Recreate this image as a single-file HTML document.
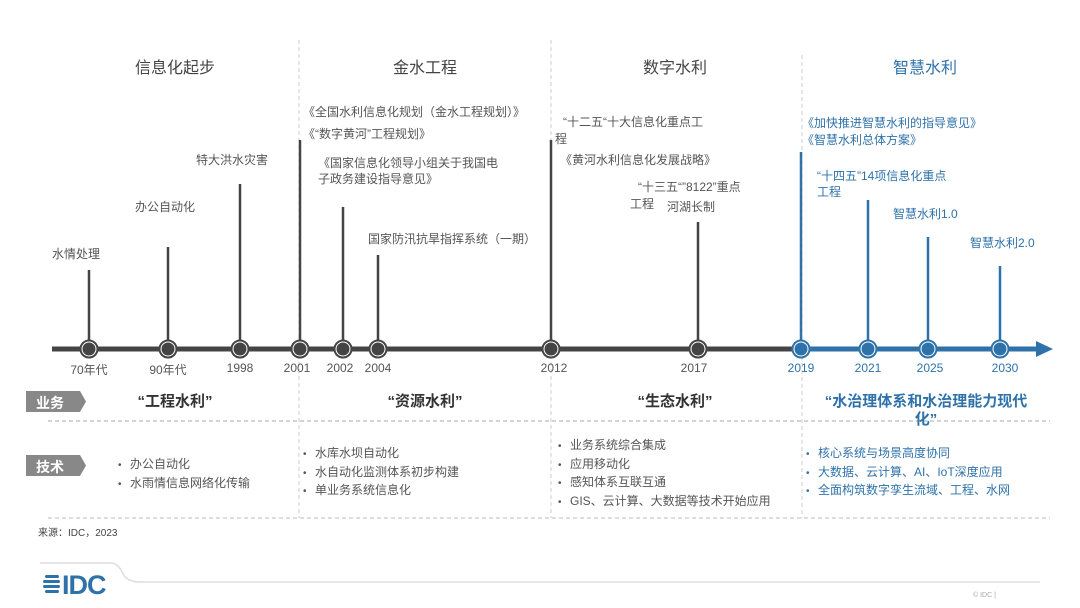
<!DOCTYPE html>
<html><head><meta charset="utf-8"><style>
body{margin:0;width:1080px;height:608px;background:#fff;overflow:hidden;position:relative;font-family:"Liberation Sans","Noto Sans CJK SC",sans-serif;}
.t{position:absolute;white-space:nowrap;font-size:12px;color:#555;line-height:16px;}
.h{position:absolute;font-size:16px;color:#444;width:200px;text-align:center;top:54px;}
.y{position:absolute;font-size:12px;color:#555;width:50px;text-align:center;top:361px;}
.b{position:absolute;font-size:15px;color:#333;width:240px;text-align:center;font-weight:bold;line-height:18px;}
.u{position:absolute;font-size:12px;color:#555;line-height:16.5px;}
.u div:before{content:"•";display:inline-block;width:12px;font-size:10px;}
.blue{color:#2f72aa!important;}
</style></head><body>
<svg width="1080" height="608" style="position:absolute;left:0;top:0">
<g stroke="#ccc" stroke-dasharray="4,3" stroke-width="1">
<line x1="299" y1="40" x2="299" y2="518"/><line x1="551" y1="40" x2="551" y2="518"/><line x1="802" y1="55" x2="802" y2="518"/>
<line x1="48" y1="421" x2="1050" y2="421" stroke="#aaa"/><line x1="48" y1="518" x2="1050" y2="518" stroke="#bbb"/>
</g>
<line x1="52" y1="349" x2="801" y2="349" stroke="#444" stroke-width="5"/>
<line x1="801" y1="349" x2="1040" y2="349" stroke="#2f72aa" stroke-width="5"/>
<polygon points="1036,341 1053,349 1036,357" fill="#2f72aa"/>
<g stroke="#444" stroke-width="2.5">
<line x1="89" y1="270" x2="89" y2="349"/><line x1="168" y1="247" x2="168" y2="349"/><line x1="240" y1="184" x2="240" y2="349"/><line x1="300" y1="140" x2="300" y2="349"/><line x1="343" y1="207" x2="343" y2="349"/><line x1="378" y1="255" x2="378" y2="349"/><line x1="551" y1="140" x2="551" y2="349"/><line x1="698" y1="222" x2="698" y2="349"/>
</g>
<g stroke="#2f72aa" stroke-width="2.5">
<line x1="801" y1="152" x2="801" y2="349"/><line x1="868" y1="200" x2="868" y2="349"/><line x1="928" y1="237" x2="928" y2="349"/><line x1="1000" y1="266" x2="1000" y2="349"/>
</g>
<g fill="#444" stroke="#fff" stroke-width="2">
<circle cx="89" cy="349" r="7.5"/><circle cx="168" cy="349" r="7.5"/><circle cx="240" cy="349" r="7.5"/><circle cx="300" cy="349" r="7.5"/><circle cx="343" cy="349" r="7.5"/><circle cx="378" cy="349" r="7.5"/><circle cx="551" cy="349" r="7.5"/><circle cx="698" cy="349" r="7.5"/>
</g>
<g fill="none" stroke="#444" stroke-width="2">
<circle cx="89" cy="349" r="8.5"/><circle cx="168" cy="349" r="8.5"/><circle cx="240" cy="349" r="8.5"/><circle cx="300" cy="349" r="8.5"/><circle cx="343" cy="349" r="8.5"/><circle cx="378" cy="349" r="8.5"/><circle cx="551" cy="349" r="8.5"/><circle cx="698" cy="349" r="8.5"/>
</g>
<g fill="#2f72aa" stroke="#fff" stroke-width="2">
<circle cx="801" cy="349" r="7.5"/><circle cx="868" cy="349" r="7.5"/><circle cx="928" cy="349" r="7.5"/><circle cx="1000" cy="349" r="7.5"/>
</g>
<g fill="none" stroke="#2f72aa" stroke-width="2">
<circle cx="801" cy="349" r="8.5"/><circle cx="868" cy="349" r="8.5"/><circle cx="928" cy="349" r="8.5"/><circle cx="1000" cy="349" r="8.5"/>
</g>
<polygon points="26,391 80,391 86,401.5 80,412 26,412" fill="#888"/>
<polygon points="26,455 80,455 86,465.5 80,476 26,476" fill="#888"/>
<path d="M40,563 L110,563 Q118,563 122,572 Q126,582 140,582 L1040,582" fill="none" stroke="#ddd" stroke-width="1.5"/>
<g fill="#2f72aa"><rect x="45" y="575" width="14" height="3" rx="1.5"/><rect x="43" y="580" width="17" height="3" rx="1.5"/><rect x="43" y="585" width="17" height="3" rx="1.5"/><rect x="45" y="590" width="14" height="3" rx="1.5"/></g>
</svg>
<div class="h" style="left:75px">信息化起步</div>
<div class="h" style="left:325px">金水工程</div>
<div class="h" style="left:575px">数字水利</div>
<div class="h blue" style="left:825px">智慧水利</div>

<div class="t" style="left:52px;top:246px">水情处理</div>
<div class="t" style="left:135px;top:199px">办公自动化</div>
<div class="t" style="left:196px;top:152px">特大洪水灾害</div>
<div class="t" style="left:303px;top:104px">《全国水利信息化规划（金水工程规划）》</div>
<div class="t" style="left:303px;top:126px">《“数字黄河”工程规划》</div>
<div class="t" style="left:318px;top:155px">《国家信息化领导小组关于我国电<br>子政务建设指导意见》</div>
<div class="t" style="left:368px;top:231px">国家防汛抗旱指挥系统（一期）</div>
<div class="t" style="left:563px;top:114px">“十二五“十大信息化重点工</div>
<div class="t" style="left:555px;top:131px">程</div>
<div class="t" style="left:560px;top:152px">《黄河水利信息化发展战略》</div>
<div class="t" style="left:638px;top:179px">“十三五“”8122”重点</div>
<div class="t" style="left:630px;top:196px">工程</div>
<div class="t" style="left:667px;top:199px">河湖长制</div>
<div class="t blue" style="left:802px;top:115px">《加快推进智慧水利的指导意见》</div>
<div class="t blue" style="left:802px;top:132px">《智慧水利总体方案》</div>
<div class="t blue" style="left:817px;top:168px">“十四五”14项信息化重点</div>
<div class="t blue" style="left:817px;top:184px">工程</div>
<div class="t blue" style="left:893px;top:206px">智慧水利1.0</div>
<div class="t blue" style="left:970px;top:235px">智慧水利2.0</div>

<div class="y" style="left:64px">70年代</div><div class="y" style="left:143px">90年代</div><div class="y" style="left:215px">1998</div><div class="y" style="left:272px">2001</div><div class="y" style="left:315px">2002</div><div class="y" style="left:353px">2004</div><div class="y" style="left:529px">2012</div><div class="y" style="left:669px">2017</div>
<div class="y blue" style="left:776px">2019</div><div class="y blue" style="left:843px">2021</div><div class="y blue" style="left:905px">2025</div><div class="y blue" style="left:980px">2030</div>

<div style="position:absolute;left:36px;top:393px;color:#fff;font-size:14px;font-weight:bold">业务</div>
<div style="position:absolute;left:36px;top:457px;color:#fff;font-size:14px;font-weight:bold">技术</div>

<div class="b" style="left:55px;top:393px">“工程水利”</div>
<div class="b" style="left:305px;top:393px">“资源水利”</div>
<div class="b" style="left:555px;top:393px">“生态水利”</div>
<div class="b blue" style="left:815px;top:393px;width:222px">“水治理体系和水治理能力现代化”</div>

<div class="u" style="left:118px;top:456px"><div>办公自动化</div><div>水雨情信息网络化传输</div></div>
<div class="u" style="left:303px;top:445px"><div>水库水坝自动化</div><div>水自动化监测体系初步构建</div><div>单业务系统信息化</div></div>
<div class="u" style="left:558px;top:437px"><div>业务系统综合集成</div><div>应用移动化</div><div>感知体系互联互通</div><div>GIS、云计算、大数据等技术开始应用</div></div>
<div class="u blue" style="left:806px;top:445px"><div>核心系统与场景高度协同</div><div>大数据、云计算、AI、IoT深度应用</div><div>全面构筑数字孪生流域、工程、水网</div></div>

<div class="t" style="left:38px;top:526px;font-size:10px;color:#444">来源：IDC，2023</div>
<div style="position:absolute;left:62px;top:570px;font-size:27px;font-weight:bold;color:#2f72aa;letter-spacing:-1px;line-height:30px">IDC</div>
<div class="t" style="left:973px;top:588px;font-size:7px;color:#aaa">© IDC |</div>
</body></html>
